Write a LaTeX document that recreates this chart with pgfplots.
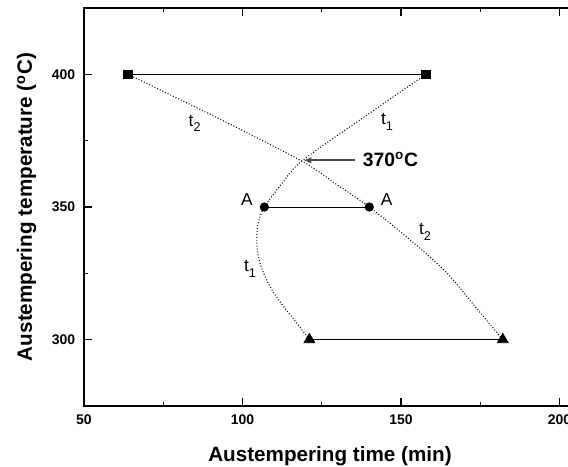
\documentclass[border=0pt]{standalone}
\usepackage{fontspec}
\setmainfont{Liberation Sans}
\usepackage{pgfplots}
\pgfplotsset{compat=1.18}
\usetikzlibrary{arrows.meta}

\newcommand{\lbl}{\fontsize{13}{15}\selectfont}
\newcommand{\tsub}[1]{t\raisebox{-0.65ex}{\fontsize{9.5}{10}\selectfont #1}}

\begin{document}
\begin{tikzpicture}
\begin{axis}[
  scale only axis,
  width=380.4pt, height=298.5pt,
  xmin=50, xmax=210, ymin=275, ymax=425,
  xtick={50,100,150,200}, ytick={300,350,400},
  minor x tick num=1, minor y tick num=1,
  tick align=inside,
  major tick length=6pt, minor tick length=3pt,
  axis line style={line width=1.3pt},
  every tick/.style={black, line width=0.9pt},
  tick label style={font=\fontsize{10.5}{12}\selectfont\bfseries},
  /pgf/number format/assume math mode=true,
  xticklabel style={yshift=-3pt},
  yticklabel style={xshift=-3pt},
]
% dotted curves t1 and t2
\addplot[smooth, tension=0.5, line width=0.8pt, dash pattern=on 0.7pt off 1.5pt] coordinates {
  (121.1,300) (117.1,306.3) (112.9,312.6) (109.2,318.9) (106.6,325.2)
  (105.0,331.4) (104.5,337.7) (105.0,344.0) (106.9,350) (112.6,359.1)
  (118.7,367.3) (138.1,383.7) (157.9,400)
};
\addplot[smooth, tension=0.5, line width=0.8pt, dash pattern=on 0.7pt off 1.5pt] coordinates {
  (63.9,400) (91.9,383.7) (118.7,367.3) (129.7,358.5) (140,350)
  (152.8,337.7) (164.4,325.2) (173.3,312.6) (182.1,300)
};
% measured pairs
\addplot[black, line width=0.7pt, mark=square*, mark size=3.1pt] coordinates {(63.9,400) (157.9,400)};
\addplot[black, line width=0.7pt, mark=*, mark size=3.1pt] coordinates {(106.9,350) (140,350)};
\addplot[black, line width=0.7pt, mark=triangle*, mark size=4.6pt] coordinates {(121.1,300) (182.1,300)};

% annotations
\draw[black!70, line width=1.2pt, -{Latex[length=6pt,width=5pt]}] (axis cs:135.5,367.6) -- (axis cs:119.2,367.6);
\node[anchor=west, inner sep=0pt, font=\fontsize{14.5}{16}\selectfont\bfseries] at (axis cs:137.9,367.8) {370\textsuperscript{o}C};
\node[font=\lbl, inner sep=0pt] at (axis cs:101.4,352.7) {A};
\node[font=\lbl, inner sep=0pt] at (axis cs:145.5,352.7) {A};
\node[font=\lbl, inner sep=0pt] at (axis cs:84.9,381.5) {\tsub{2}};
\node[font=\lbl, inner sep=0pt] at (axis cs:145.6,382.2) {\tsub{1}};
\node[font=\lbl, inner sep=0pt] at (axis cs:157.6,340.6) {\tsub{2}};
\node[font=\lbl, inner sep=0pt] at (axis cs:102.4,326.8) {\tsub{1}};
\end{axis}
\node[anchor=base, font=\fontsize{15.5}{18}\selectfont\bfseries]
  at ([shift={(184.5pt,-42pt)}]current axis.south west) {Austempering time (min)};
\node[anchor=base, rotate=90, font=\fontsize{15.5}{18}\selectfont\bfseries]
  at ([shift={(-39pt,149.25pt)}]current axis.south west) {Austempering temperature (\textsuperscript{o}C)};
\pgfresetboundingbox
\path[use as bounding box] ([shift={(-63pt,-45.75pt)}]current axis.south west)
  rectangle ([shift={(363pt,304.5pt)}]current axis.south west);
\end{tikzpicture}
\end{document}
